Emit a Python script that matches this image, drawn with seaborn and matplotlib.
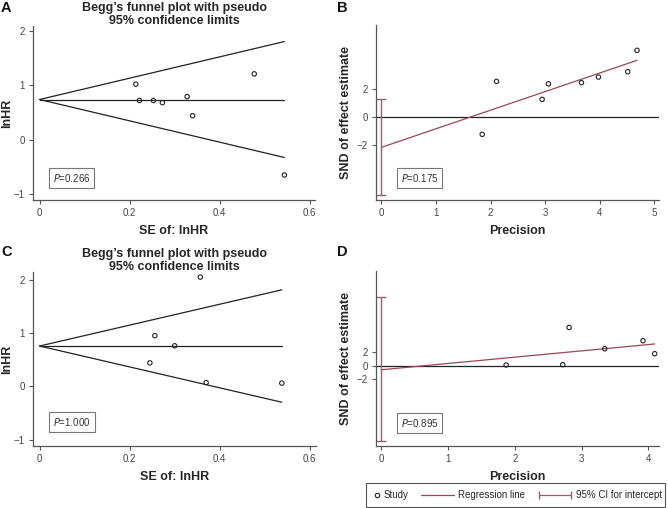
import numpy as np
import pandas as pd
import seaborn as sns
import matplotlib
matplotlib.use("Agg")
import matplotlib.pyplot as plt
from matplotlib.lines import Line2D
from matplotlib.patches import Rectangle
from matplotlib.legend_handler import HandlerLine2D

# ---------------- data ----------------
# Panel A: Begg's funnel (SE vs lnHR)
a_se = [0.214, 0.222, 0.253, 0.273, 0.328, 0.340, 0.477, 0.544]
a_lnhr = [1.02, 0.72, 0.72, 0.68, 0.79, 0.44, 1.21, -0.65]
a_theta = 0.738
a_p = "0.266"

# Panel C: Begg's funnel
c_se = [0.357, 0.256, 0.300, 0.245, 0.370, 0.538]
c_lnhr = [2.05, 0.95, 0.76, 0.44, 0.07, 0.06]
c_theta = 0.756
c_p = "1.000"

# Panel B: Egger (precision vs SND)
b_prec = [1.848, 2.11, 2.945, 3.06, 3.665, 3.976, 4.512, 4.683]
b_snd = [-1.21, 2.57, 1.29, 2.40, 2.48, 2.88, 3.26, 4.79]
b_ci = [-5.55, 1.29]
b_p = "0.175"

# Panel D: Egger
d_prec = [1.87, 2.718, 2.813, 3.347, 3.92, 4.095]
d_snd = [0.10, 0.15, 5.75, 2.55, 3.75, 1.80]
d_ci = [-11.35, 10.35]
d_p = "0.895"

funnel_xticks = [0, 0.2, 0.4, 0.6]
funnel_xticklabels = ["0", "0.2", "0.4", "0.6"]
funnel_yticks = [-1, 0, 1, 2]
b_xticks = [0, 1, 2, 3, 4, 5]
d_xticks = [0, 1, 2, 3, 4]
egger_yticks = [-2, 0, 2]
legend_labels = ["Study", "Regression line", "95% CI for intercept"]

title_txt = "Begg\u2019s funnel plot with pseudo\n95% confidence limits"

# ---------------- style ----------------
sns.set_theme(style="ticks")
plt.rcParams["font.family"] = ["Liberation Sans", "DejaVu Sans"]

W, H = 668, 508
fig = plt.figure(figsize=(W / 100, H / 100), dpi=100)

REG = "#9b4656"
CI = "#a85868"
SPINE = "#555555"
TICKC = "#444444"


def ax_px(x0, y0, x1, y1):
    return fig.add_axes([x0 / W, 1 - y1 / H, (x1 - x0) / W, (y1 - y0) / H])


def style_ax(ax):
    sns.despine(ax=ax)
    for s in ("left", "bottom"):
        ax.spines[s].set_color(SPINE)
        ax.spines[s].set_linewidth(0.9)
    ax.tick_params(axis="both", length=3, width=0.8, color=SPINE,
                   labelsize=7, labelcolor=TICKC, pad=3)
    ax.set_facecolor("white")


def pbox(ax, x, y, p):
    ax.text(x, y, "$\\it{P}$=" + p, transform=ax.transAxes, fontsize=7,
            color="#333333", ha="left", va="bottom",
            bbox=dict(boxstyle="square,pad=0.4", fc="white", ec="#777777", lw=0.8))


def funnel(ax, se, lnhr, theta, p, xlim, ylim, py):
    df = pd.DataFrame({"se": se, "lnhr": lnhr})
    semax = max(se)
    grid = pd.DataFrame({"x": [0, semax]})
    ax.plot(grid["x"], theta + 1.96 * grid["x"], color="#222222", lw=0.9)
    ax.plot(grid["x"], theta - 1.96 * grid["x"], color="#222222", lw=0.9)
    ax.plot(grid["x"], [theta, theta], color="#222222", lw=0.9)
    sns.scatterplot(data=df, x="se", y="lnhr", ax=ax, marker="o", s=10,
                    facecolor="none", edgecolor="#222222", linewidth=0.8, zorder=3)
    ax.set_xlim(*xlim)
    ax.set_ylim(*ylim)
    ax.set_xticks(funnel_xticks)
    ax.set_xticklabels(funnel_xticklabels)
    ax.set_yticks(funnel_yticks)
    ax.set_xlabel("SE of: lnHR", fontsize=9, fontweight="bold", labelpad=5)
    ax.set_ylabel("lnHR", fontsize=9, fontweight="bold")
    ax.yaxis.set_label_coords(-0.069, 0.5)
    style_ax(ax)
    pbox(ax, 0.071, py, p)


def egger(ax, prec, snd, ci, p, xlim, ylim, xticks, py):
    df = pd.DataFrame({"prec": prec, "snd": snd})
    slope, intercept = np.polyfit(df["prec"], df["snd"], 1)
    xs = np.array([0, max(prec)])
    ax.axhline(0, color="#222222", lw=0.9)
    ax.plot(xs, intercept + slope * xs, color=REG, lw=0.9)
    ax.errorbar([0], [(ci[0] + ci[1]) / 2], yerr=[[(ci[1] - ci[0]) / 2]],
                fmt="none", ecolor=CI, elinewidth=1.0, capsize=3.5, capthick=1.0)
    sns.scatterplot(data=df, x="prec", y="snd", ax=ax, marker="o", s=10,
                    facecolor="none", edgecolor="#222222", linewidth=0.8, zorder=3)
    ax.set_xlim(*xlim)
    ax.set_ylim(*ylim)
    ax.set_xticks(xticks)
    ax.set_yticks(egger_yticks)
    ax.set_yticklabels(["\u22122", "0", "2"])
    ax.set_xlabel("Precision", fontsize=9, fontweight="bold", labelpad=5)
    ax.set_ylabel("SND of effect estimate", fontsize=9, fontweight="bold")
    ax.yaxis.set_label_coords(-0.085, 0.5)
    style_ax(ax)
    pbox(ax, 0.087, py, p)


# Panel A
axA = ax_px(33, 26, 315, 200)
funnel(axA, a_se, a_lnhr, a_theta, a_p, (-0.0145, 0.612), (-1.11, 2.09), 0.091)
# Panel C
axC = ax_px(33, 272, 316, 446)
funnel(axC, c_se, c_lnhr, c_theta, c_p, (-0.0146, 0.614), (-1.12, 2.145), 0.103)
# Panel B
axB = ax_px(376, 25, 659, 200)
egger(axB, b_prec, b_snd, b_ci, b_p, (-0.097, 5.085), (-5.9, 6.6), b_xticks, 0.091)
# Panel D
axD = ax_px(376, 271, 659, 446)
egger(axD, d_prec, d_snd, d_ci, d_p, (-0.08, 4.16), (-12.09, 14.25), d_xticks, 0.097)

# titles
fig.text(174 / W, 1 - 27 / H, title_txt, ha="center", va="bottom",
         fontsize=9, fontweight="bold", linespacing=1.1)
fig.text(174 / W, 1 - 273 / H, title_txt, ha="center", va="bottom",
         fontsize=9, fontweight="bold", linespacing=1.1)

# panel letters
for lab, x, y in [("A", 1, 1), ("B", 337, 1), ("C", 1, 245), ("D", 337, 245)]:
    fig.text(x / W, 1 - y / H, lab, ha="left", va="top", fontsize=10.5,
             fontweight="bold", color="#111111")


# legend (marker placed at right end of its handle, Stata style)
class RightMarkerHandler(HandlerLine2D):
    def get_xdata(self, legend, xdescent, ydescent, width, height, fontsize):
        x1 = -xdescent + width
        xdata = np.array([x1 - 3.0, x1])
        return xdata, np.array([x1 - 1.5])


h_study = Line2D([], [], marker="o", ls="none", mfc="none", mec="#222222",
                 ms=3.2, mew=0.8)
h_reg = Line2D([], [], color=REG, lw=0.9)
h_ci = Line2D([], [], color=CI, lw=0.9, marker="|", ms=6, mew=1.0)
leg = fig.legend([h_study, h_reg, h_ci], legend_labels,
                 handler_map={h_ci: HandlerLine2D(numpoints=2, marker_pad=0),
                              h_study: RightMarkerHandler(numpoints=1)},
                 loc="center right", bbox_to_anchor=(666 / W, 1 - 495.5 / H),
                 ncol=3, fontsize=7, frameon=False,
                 handlelength=3.3, handletextpad=0.5,
                 columnspacing=1.35, borderpad=0.45, borderaxespad=0)
fig.patches.append(Rectangle((366 / W, 1 - 507 / H), (665 - 366) / W, 24 / H,
                             transform=fig.transFigure, fill=False,
                             edgecolor="#555555", lw=0.8))

fig.savefig("out.png", dpi=100, facecolor="white")
